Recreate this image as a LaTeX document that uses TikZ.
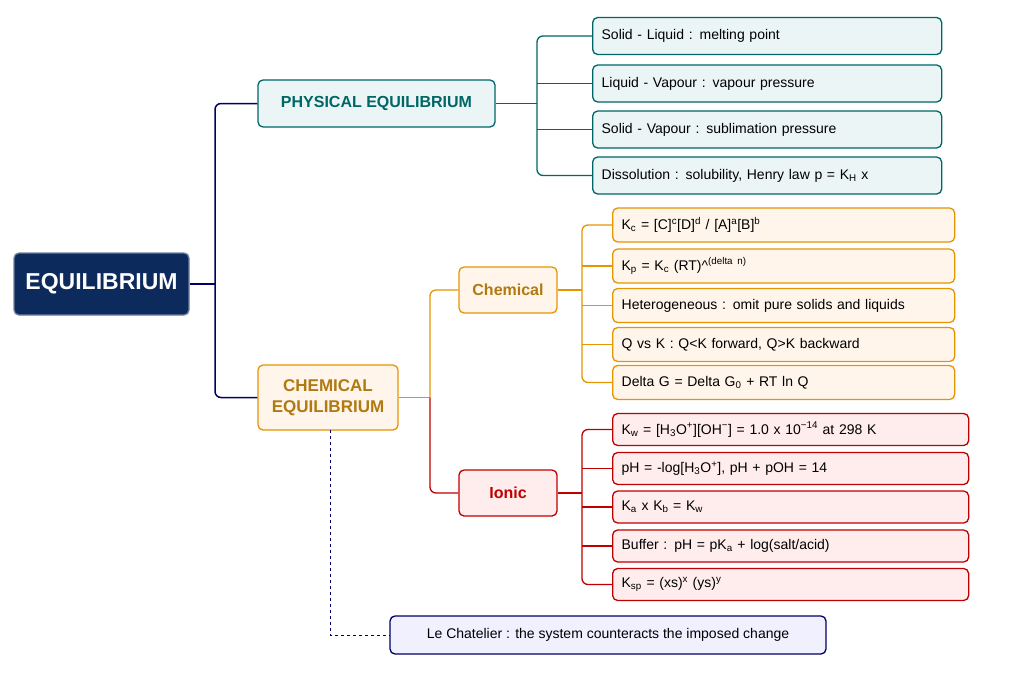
\documentclass[tikz,border=0pt]{standalone}
\usepackage{fontspec}
\setmainfont{Liberation Sans}
\newcommand{\lo}[1]{\textsubscript{#1}}
\newcommand{\hi}[1]{\textsuperscript{#1}}
\begin{document}
\begin{tikzpicture}[x=1pt,y=-1pt,
 box/.style={draw,rounded corners=5pt,line width=1.3pt,inner sep=0pt,align=center},
 leaf/.style={box,anchor=west,text width=#1,align=left,inner xsep=0pt,font=\fontsize{14}{16}\selectfont},
 pbox/.style={draw=teal!80!black,fill=teal!8},
 cbox/.style={draw=orange!70!yellow!90!black,fill=orange!8},
 ibox/.style={draw=red!75!black,fill=red!7},
 pl/.style={draw=teal!80!black,line width=1.3pt,rounded corners=6pt},
 cl/.style={draw=orange!70!yellow!90!black,line width=1.3pt,rounded corners=6pt},
 il/.style={draw=red!75!black,line width=1.3pt,rounded corners=6pt},
 nl/.style={draw=blue!40!black,line width=1.5pt,rounded corners=6pt}]
\useasboundingbox (0,0) rectangle (1024,683);
\definecolor{navy}{HTML}{0D2A5C}
\definecolor{gold}{HTML}{B07A10}
\node[box,draw=navy!60,fill=navy,text=white,font=\bfseries\fontsize{23}{26}\selectfont,minimum width=175,minimum height=62] (eq) at (101.5,284) {EQUILIBRIUM};
\node[box,pbox,text=teal!80!black,font=\bfseries\fontsize{16}{18}\selectfont,minimum width=237,minimum height=47] (ph) at (376.5,103.5) {PHYSICAL EQUILIBRIUM};
\node[box,cbox,text=gold,font=\bfseries\fontsize{17}{21}\selectfont,minimum width=140,minimum height=65] (ce) at (328,397.5) {CHEMICAL\\EQUILIBRIUM};
\node[box,cbox,text=gold,font=\bfseries\fontsize{16}{18}\selectfont,minimum width=98,minimum height=46] (ch) at (508,290) {Chemical};
\node[box,ibox,text=red!75!black,font=\bfseries\fontsize{16}{18}\selectfont,minimum width=98,minimum height=46] (io) at (508,493) {Ionic};
\node[box,draw=blue!40!black,fill=blue!6,font=\fontsize{14}{16}\selectfont,minimum width=436,minimum height=38] (lc) at (608,635) {Le Chatelier : the system counteracts the imposed change};
\foreach \n/\y/\t in {p1/36/{Solid - Liquid : melting point},p2/83.5/{Liquid - Vapour : vapour pressure},p3/129.5/{Solid - Vapour : sublimation pressure},p4/175.5/{Dissolution : solubility, Henry law p = K\lo{H} x}}
 \node[leaf=331,pbox,minimum height=37,inner xsep=9pt] (\n) at (592,\y) {\t};
\foreach \n/\y/\t in {c1/225/{K\lo{c} = [C]\hi{c}[D]\hi{d} / [A]\hi{a}[B]\hi{b}},c2/266/{K\lo{p} = K\lo{c} (RT)\^{}\hi{(delta n)}},c3/305.5/{Heterogeneous : omit pure solids and liquids},c4/344.5/{Q vs K : Q<K forward, Q>K backward},c5/382.5/{Delta G = Delta G\lo{0} + RT ln Q}}
 \node[leaf=324,cbox,minimum height=34,inner xsep=9pt] (\n) at (612,\y) {\t};
\foreach \n/\y/\t in {i1/429.5/{K\lo{w} = [H\lo{3}O\hi{+}][OH\hi{−}] = 1.0 x 10\hi{−14} at 298 K},i2/468.5/{pH = -log[H\lo{3}O\hi{+}], pH + pOH = 14},i3/507/{K\lo{a} x K\lo{b} = K\lo{w}},i4/546/{Buffer : pH = pK\lo{a} + log(salt/acid)},i5/584.5/{K\lo{sp} = (xs)\hi{x} (ys)\hi{y}}}
 \node[leaf=338,ibox,minimum height=32,inner xsep=9pt] (\n) at (612,\y) {\t};
\draw[nl] (eq.east) -- (215,284);
\draw[nl] (ph.west) -| (215,284) |- (ce.west);
\draw[pl] (ph.east) -- (537,103.5);
\draw[pl] (p1.west) -| (537,103.5) |- (p4.west);
\draw[pl] (p2.west) -- (537,83.5);
\draw[pl] (p3.west) -- (537,129.5);
\draw[cl] (ce.east) -- (430,397.5);
\draw[cl] (ch.west) -| (430,397.5);
\draw[il] (430,397.5) |- (io.west);
\draw[cl] (ch.east) -- (582,290);
\draw[cl] (c1.west) -| (582,290) |- (c5.west);
\draw[cl] (c2.west) -- (582,266);
\draw[cl] (c3.west) -- (582,305.5);
\draw[cl] (c4.west) -- (582,344.5);
\draw[il] (io.east) -- (582,493);
\draw[il] (i1.west) -| (582,493) |- (i5.west);
\draw[il] (i2.west) -- (582,468.5);
\draw[il] (i3.west) -- (582,507);
\draw[il] (i4.west) -- (582,546);
\draw[blue!40!black,line width=1pt,dashed] (330,430) -- (330,635) -- (lc.west);
\end{tikzpicture}
\end{document}
